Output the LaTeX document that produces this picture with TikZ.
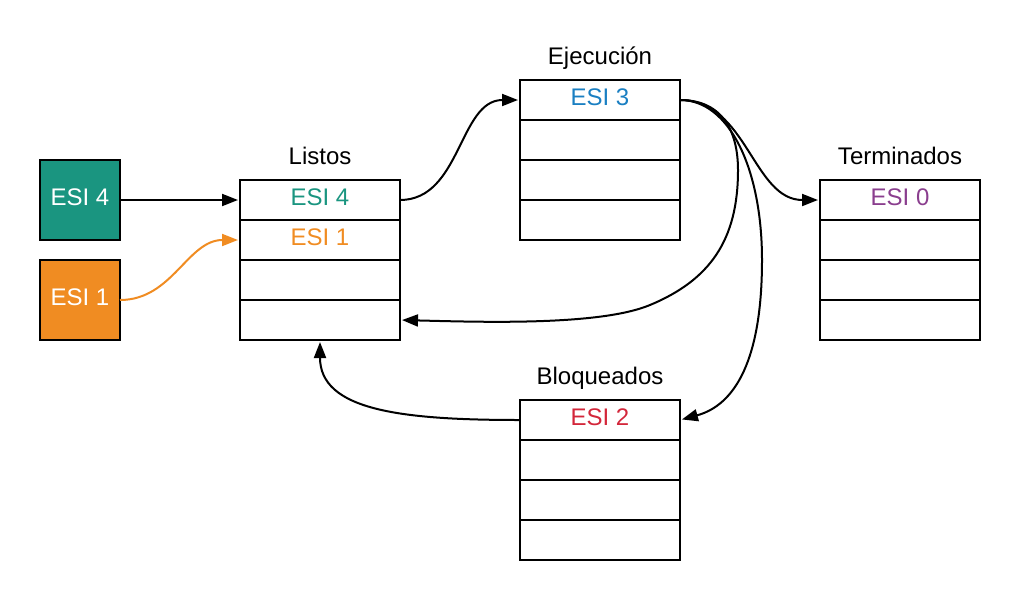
\documentclass[tikz,border=0pt]{standalone}
\usepackage{fontspec}
\setmainfont{Liberation Sans}
\usetikzlibrary{arrows.meta,positioning}

\definecolor{verde}{HTML}{1A9580}
\definecolor{naranja}{HTML}{F08C22}
\definecolor{azul}{HTML}{1A7FC2}
\definecolor{morado}{HTML}{8A3E8E}
\definecolor{rojo}{HTML}{D3263A}

\tikzset{
  celda/.style={draw,line width=1.5pt,minimum width=120pt,minimum height=30pt,
    inner sep=0pt,outer sep=0pt,text height=13pt,text depth=4.5pt},
  esi/.style={draw,line width=1.5pt,minimum size=60pt,inner sep=0pt,outer sep=0pt,
    text=white,text height=13pt,text depth=4.5pt},
  titulo/.style={inner sep=0pt,text depth=0pt}
}

\begin{document}
\begin{tikzpicture}[x=0.75pt,y=-0.75pt,>={Triangle[length=12pt,width=9pt]},shorten >=1.5pt,
    line width=1.5pt,font=\fontsize{18pt}{21pt}\selectfont,node distance=0pt]

\useasboundingbox (0,0) rectangle (1020,600);

\node[esi,fill=verde] (esi4) at (80,200) {ESI 4};
\node[esi,fill=naranja] (esi1) [below=15pt of esi4] {ESI 1};

\node[celda,text=verde] (lis1) at (320,200) {ESI 4};
\node[celda,text=naranja] (lis2) [below=of lis1] {ESI 1};
\node[celda] (lis3) [below=of lis2] {};
\node[celda] (lis4) [below=of lis3] {};
\node[celda,text=azul] (eje1) at (600,100) {ESI 3};
\node[celda,text=morado] (ter1) at (900,200) {ESI 0};
\node[celda,text=rojo] (blo1) at (600,420) {ESI 2};
\foreach \t in {eje,ter,blo}
  \foreach \i/\j in {1/2,2/3,3/4}
    \node[celda] (\t\j) [below=of \t\i] {};

\node[titulo] (tlis) [above=11pt of lis1] {Listos};
\node[titulo] (teje) [above=11pt of eje1] {Ejecución};
\node[titulo] (tter) [above=11pt of ter1] {Terminados};
\node[titulo] (tblo) [above=11pt of blo1] {Bloqueados};

% transiciones
\draw[->] (esi4) -- (lis1);
\draw[->,naranja] (esi1.east) to[out=0,in=180] (lis2.west);
\draw[->] (lis1.east) to[out=0,in=180] (eje1.west);
\draw[->] (eje1.east) to[out=0,in=180] (ter1.west);
\draw[->] (eje1.east) .. controls (725,100) and (738,135) .. (738,170)
  .. controls (738,240) and (710,280) .. (650,305)
  .. controls (600,326) and (480,322) .. (lis4.east);
\draw[->] (eje1.east) .. controls (730,100) and (762,170) .. (762,260)
  .. controls (762,360) and (735,405) .. (blo1.east);
\draw[->] (blo1.west) .. controls (400,420) and (320,410) .. (lis4.south);

\end{tikzpicture}
\end{document}
